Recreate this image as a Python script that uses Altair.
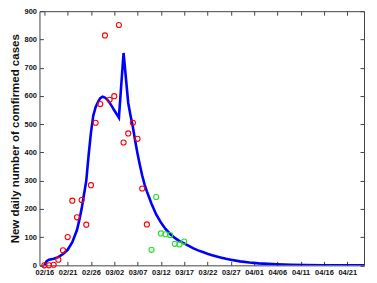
import altair as alt
import pandas as pd

# x positions are days since 02/16 (2020)
tick_days = [0, 5, 10, 15, 20, 25, 30, 35, 40, 45, 50, 55, 60, 65]
tick_labels = ["02/16", "02/21", "02/26", "03/02", "03/07", "03/12", "03/17",
               "03/22", "03/27", "04/01", "04/06", "04/11", "04/16", "04/21"]

red_days = list(range(0, 23))
red_vals = [0, 0, 2, 20, 53, 100, 229, 170, 231, 144, 284, 505, 571, 814,
            586, 599, 851, 435, 467, 505, 448, 272, 145]

green_days = list(range(23, 31))
green_vals = [55, 242, 113, 110, 107, 76, 74, 84]

curve_days = [0, 0.5, 1, 2, 3, 4, 5, 6, 7, 7.5, 8, 8.5, 9, 9.5, 10, 10.5, 11, 11.5,
              12, 12.5, 13, 13.5, 14, 14.5, 15, 15.5, 16, 17, 18, 18.5, 19, 19.5,
              20, 20.5, 21, 21.5, 22, 23, 24, 25, 26, 27, 28, 29, 30, 31, 32, 33,
              34, 35, 36, 37, 38, 39, 40, 42, 44, 46, 48, 50, 53, 56, 60, 64, 68.6]
curve_vals = [0, 15, 20, 23, 29, 40, 55, 82, 125, 160, 200, 250, 300, 390, 470, 530,
              560, 578, 592, 597, 594, 587, 576, 563, 549, 536, 523, 752, 575, 530,
              490, 440, 395, 355, 318, 287, 262, 218, 180, 152, 129, 111, 97, 86, 78,
              69, 60, 53, 47, 41, 36, 31, 27, 23, 20, 14, 10, 7, 5, 3.5, 2, 1, 0.5,
              0.2, 0.1]

curve_df = pd.DataFrame({"day": curve_days, "val": curve_vals})
red_df = pd.DataFrame({"day": red_days, "val": red_vals})
green_df = pd.DataFrame({"day": green_days, "val": green_vals})

label_js = "[" + ",".join("'" + s + "'" for s in tick_labels) + "]"
x_scale = alt.Scale(domain=[-1.05, 68.6], nice=False, zero=False)
y_scale = alt.Scale(domain=[0, 900], nice=False)
FONT = "Liberation Sans"

x_bottom = alt.Axis(values=tick_days, labelExpr=label_js + "[round(datum.value/5)]",
                    orient="bottom", domain=False, grid=False, tickSize=4, offset=-4,
                    tickColor="#444", labelPadding=3, labelFontSize=7.5,
                    labelFont=FONT, labelFontWeight="bold", labelColor="#111",
                    title=None)
y_left = alt.Axis(values=list(range(0, 901, 100)), orient="left", domain=False,
                  grid=False, tickSize=4, offset=-4, tickColor="#444", labelPadding=3,
                  labelFontSize=7.5, labelFont=FONT, labelFontWeight="bold",
                  labelColor="#111", title="New daily number of comfirmed cases",
                  titleFont=FONT, titleFontSize=11.5, titleFontWeight="bold",
                  titleColor="#111", titlePadding=3)
x_top = alt.Axis(values=tick_days, orient="top", domain=False, grid=False,
                 tickSize=4, offset=-4, tickColor="#444", labels=False, title=None)
y_right = alt.Axis(values=list(range(0, 901, 100)), orient="right", domain=False,
                   grid=False, tickSize=4, offset=-4, tickColor="#444", labels=False,
                   title=None)

line = alt.Chart(curve_df).mark_line(color="#0000ff", strokeWidth=2.6, clip=True).encode(
    x=alt.X("day:Q", scale=x_scale, axis=x_bottom),
    y=alt.Y("val:Q", scale=y_scale, axis=y_left),
)
red = alt.Chart(red_df).mark_point(shape="circle", filled=False, color="#ff0000",
                                   size=26, strokeWidth=1.1, opacity=1).encode(
    x=alt.X("day:Q", scale=x_scale, axis=x_top),
    y=alt.Y("val:Q", scale=y_scale, axis=y_right),
)
green = alt.Chart(green_df).mark_point(shape="circle", filled=False, color="#22e022",
                                       size=26, strokeWidth=1.1, opacity=1).encode(
    x=alt.X("day:Q", scale=x_scale, axis=None),
    y=alt.Y("val:Q", scale=y_scale, axis=None),
)

chart = alt.layer(line, red, green).resolve_axis(
    x="independent", y="independent"
).properties(
    width=325, height=254.5,
    autosize=alt.AutoSizeParams(type="none"),
    padding={"left": 31.5, "top": 3, "right": 5, "bottom": 13},
).configure_view(stroke="#444", strokeWidth=1)

chart.save("out.html", embed_options={"renderer": "svg", "actions": False})
